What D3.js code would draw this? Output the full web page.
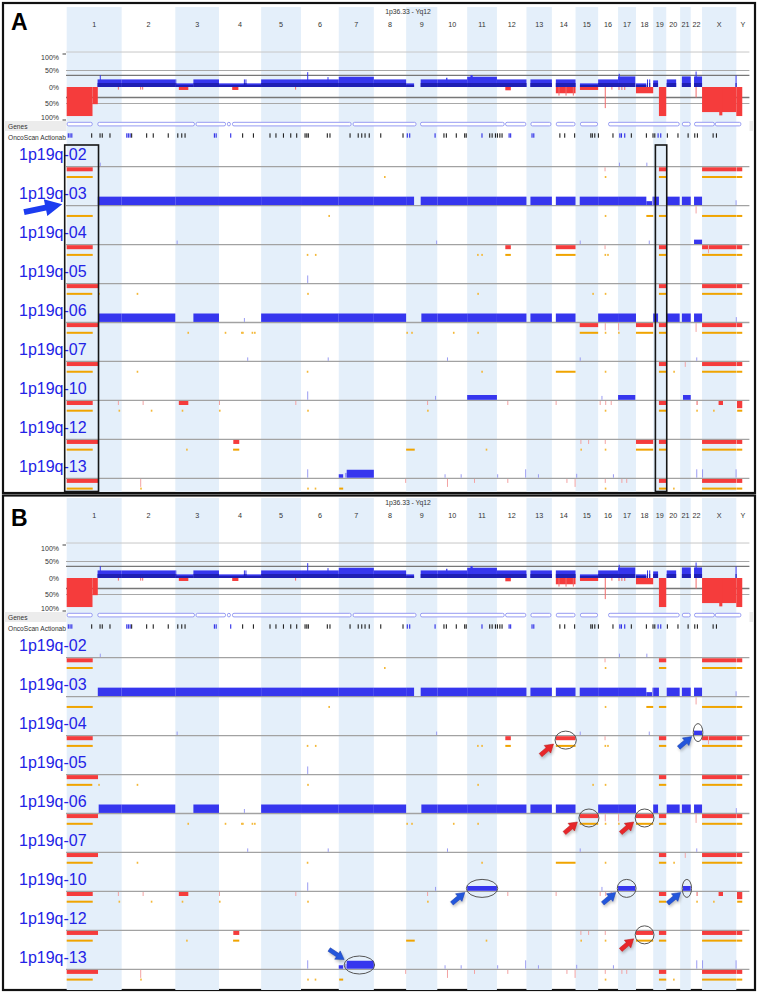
<!DOCTYPE html>
<html>
<head>
<meta charset="utf-8">
<script src="https://cdnjs.cloudflare.com/ajax/libs/d3/7.8.5/d3.min.js"></script>
<style>
body { margin: 0; background: #fff; }
svg { display: block; font-family: "Liberation Sans", Arial, sans-serif; }
</style>
</head>
<body>
<svg id="fig" width="758" height="992"></svg>
<script>
// chromosome sizes in Mb
const chromNames = ["1","2","3","4","5","6","7","8","9","10","11","12","13","14","15","16","17","18","19","20","21","22","X","Y"]
const chromLengths = [249.25, 243.2, 198.0, 191.15, 180.9, 171.1, 159.1, 146.4, 141.2, 135.5, 135.0, 133.9, 115.2, 107.3, 102.5, 90.35, 81.2, 78.1, 59.1, 63.0, 48.1, 51.3, 155.3, 59.4]
const pctTicks = [100, 50, 0, -50, -100]

// aggregate frequency track: [chrom, startMb, endMb, percent]
const summaryGain = [
  [1, 140, 249.25, 23], [1, 150, 152, 36],
  [2, 0, 243.2, 23],
  [3, 0, 3, 23], [3, 3, 82, 11], [3, 82, 198, 23],
  [4, 0, 191.15, 11], [4, 113, 115, 23], [4, 120, 122, 23],
  [5, 0, 180.9, 23],
  [6, 0, 171.1, 23], [6, 28, 30, 45], [6, 120, 122, 30],
  [7, 0, 159.1, 31],
  [8, 0, 146.4, 23],
  [9, 0, 36, 11], [9, 66, 141.2, 23],
  [10, 0, 135.5, 23], [10, 40, 46, 28],
  [11, 0, 135, 31], [11, 15, 25, 36],
  [12, 0, 133.9, 23],
  [13, 18, 115.2, 23],
  [14, 18, 107.3, 23],
  [15, 20, 102.5, 11],
  [16, 0, 90.35, 23],
  [17, 0, 78, 32], [17, 3, 5, 40],
  [18, 0, 47, 11], [18, 50, 52, 23], [18, 60, 62, 23],
  [19, 0, 22, 20],
  [20, 2, 45, 23],
  [21, 8, 48.1, 32],
  [22, 15, 51.3, 32], [22, 22, 24, 47],
  ["X", 152, 154, 35]
]
const summaryLoss = [
  [1, 0, 117, 88], [1, 117, 141, 52], [1, 232, 234, 8],
  [2, 84, 86, 8], [2, 93, 95, 8],
  [3, 16, 59, 9],
  [4, 60, 88, 9],
  [5, 154, 156, 8],
  [12, 38, 63, 10],
  [14, 18, 107.3, 19], [14, 30, 32, 26], [14, 62, 64, 26], [14, 95, 97, 26],
  [15, 20, 102.5, 9],
  [16, 30, 32, 64], [16, 60, 62, 8],
  [17, 2, 4, 9], [17, 15, 17, 9], [17, 28, 30, 9],
  [18, 0, 78.1, 19],
  [19, 26, 59.1, 88],
  [22, 22, 24, 32],
  ["X", 0, 155.3, 76], ["X", 78, 92, 86],
  ["Y", 0, 27, 88]
]

// gene track outlines: [chromA, mbA, chromB, mbB]
const geneSegments = [
  [1, 0, 1, 118], [1, 139, 3, 89], [3, 92, 4, 32], [4, 36, 4, 54], [4, 59, 7, 58],
  [7, 63, 9, 47], [9, 63, 12, 35], [12, 37, 12, 133], [13, 18, 13, 113], [14, 18, 14, 107],
  [15, 20, 15, 102], [16, 45, 20, 61], [21, 8, 21, 48], [22, 15, "X", 58], ["X", 58, "Y", 23]
]

// OncoScan actionable genes: [chrom, mb, blue?]
const actionableTicks = [
  [1, 7, 1], [1, 15, 1], [1, 23, 1], [1, 113, 0], [1, 151, 0], [1, 161, 0], [1, 196, 0],
  [2, 23, 1], [2, 30, 1], [2, 38, 1], [2, 45, 0], [2, 113, 0], [2, 143, 0], [2, 211, 0],
  [3, 11, 0], [3, 29, 0], [3, 44, 0], [3, 177, 1], [3, 185, 1],
  [4, 53, 1], [4, 107, 0], [4, 156, 0],
  [5, 40, 0], [5, 67, 0], [5, 101, 0], [5, 134, 0], [5, 161, 0],
  [6, 18, 0], [6, 26, 0], [6, 33, 0], [6, 119, 0], [6, 131, 0],
  [7, 51, 0], [7, 88, 0], [7, 104, 0], [7, 119, 0], [7, 138, 0],
  [8, 31, 0], [8, 132, 0],
  [9, 5, 1], [9, 16, 1], [9, 131, 1],
  [10, 30, 0], [10, 41, 0], [10, 86, 0], [10, 124, 0], [10, 131, 0],
  [11, 67, 1], [11, 102, 0], [11, 113, 0], [11, 128, 0],
  [12, 2, 0], [12, 13, 0], [12, 23, 0], [12, 55, 1], [12, 62, 1],
  [13, 25, 1], [13, 33, 1],
  [14, 36, 0], [14, 58, 0], [14, 103, 0],
  [15, 69, 0], [15, 76, 0], [15, 87, 0], [16, 1, 0], [16, 67, 0],
  [17, 8, 1], [17, 15, 1], [17, 30, 1], [17, 60, 0],
  [18, 47, 0], [18, 77, 0], [19, 7, 0], [19, 22, 1], [19, 34, 1],
  [20, 5, 0], [20, 53, 0], [21, 36, 0], [22, 18, 0], [22, 30, 0],
  ["X", 50, 0], ["X", 65, 0]
]

const sampleNames = ["1p19q-02", "1p19q-03", "1p19q-04", "1p19q-05", "1p19q-06", "1p19q-07", "1p19q-10", "1p19q-12", "1p19q-13"]

// per sample: [chrom, startMb, endMb, level]
const sampleGains = [
  [[1, 150, 152, 0.45], [17, 4, 6, 0.45], [18, 47, 49, 0.45]],
  [[1, 141, 249.25, 1], [2, 0, 243.2, 1], [3, 0, 198, 1], [4, 0, 191.15, 1], [5, 0, 180.9, 1], [6, 0, 171.1, 1],
   [7, 0, 159.1, 1], [8, 0, 146.4, 1], [9, 0, 36, 1], [9, 66, 141.2, 1], [10, 0, 135.5, 1], [11, 0, 135, 1],
   [12, 0, 133.9, 1], [13, 18, 115.2, 1], [14, 18, 107.3, 1], [15, 19, 102.5, 1], [16, 0, 90.35, 1], [17, 0, 81.2, 1],
   [18, 0, 47, 1], [18, 47, 73, 0.5], [18, 73, 78.1, 1], [19, 0, 26, 1], [20, 2, 61, 1], [21, 8, 48.1, 1],
   [22, 15, 51.3, 1], ["X", 152, 154, 0.6]],
  [[3, 6, 8, 0.45], [9, 136, 138, 0.45], [15, 19, 21, 0.45], [18, 58, 60, 0.45], [22, 15, 51.3, 0.55]],
  [[6, 28, 30, 0.9]],
  [[1, 145, 249.25, 1], [2, 0, 243.2, 1], [3, 82, 198, 1], [4, 113, 115, 0.5], [5, 0, 180.9, 1], [6, 0, 171.1, 1],
   [7, 0, 159.1, 1], [8, 0, 146.4, 1], [9, 69, 141.2, 1], [10, 0, 135.5, 1], [11, 0, 135, 1], [12, 0, 133.9, 1],
   [13, 18, 115.2, 1], [14, 18, 107.3, 1], [16, 0, 90.35, 1], [17, 0, 81.2, 1], [19, 0, 22, 1], [20, 2, 61, 1],
   [21, 8, 48.1, 1], [22, 15, 51.3, 1], ["X", 153, 155, 0.6]],
  [[4, 128, 130, 0.45], [6, 121, 123, 0.45], [10, 44, 46, 0.45], [15, 19, 21, 0.45], [22, 25, 27, 0.45]],
  [[6, 28, 30, 1], [9, 131, 133, 0.5], [11, 0, 135, 0.6], [16, 15, 17, 0.5], [17, 0, 78, 0.6], [21, 13, 48.1, 0.6]],
  [],
  [[6, 28, 30, 1], [7, 0, 20, 0.45], [7, 28, 36, 0.6], [7, 36, 159.1, 0.95], [10, 33, 35, 0.45], [10, 106, 108, 0.45],
   [12, 1, 3, 0.45], [12, 128, 130, 1], [13, 52, 54, 0.45], [15, 3, 5, 0.5], [16, 67, 69, 0.45],
   [22, 25, 27, 1], ["X", 0, 2, 1], ["X", 152, 154, 1]]
]
const sampleLosses = [
  [[1, 0, 118, 1], [16, 29, 31, 1], [19, 26, 59.1, 1], ["X", 0, 154.5, 1], ["Y", 1, 27, 1]],
  [[22, 22, 24, 1.8]],
  [[1, 0, 118, 1], [12, 38, 63, 1], [14, 18, 107.3, 1], [16, 29, 31, 1], [19, 26, 59.1, 1], ["X", 0, 154.5, 1],
   ["X", 27, 29, 2], ["Y", 1, 27, 1]],
  [[1, 0, 142, 1], [19, 26, 59.1, 1], ["X", 0, 154.5, 1], ["Y", 1, 27, 1]],
  [[1, 0, 142, 1], [15, 19, 102.5, 1], [16, 30, 32, 1.8], [17, 0, 2, 1.8], [18, 0, 78.1, 1], [19, 26, 59.1, 1],
   [22, 22, 24, 2.2], ["X", 0, 154.5, 1], ["Y", 1, 27, 1]],
  [[1, 0, 142, 1], [19, 26, 59.1, 1], [21, 21, 23, 1.2], ["X", 0, 154.5, 1], ["Y", 1, 27, 1]],
  [[1, 0, 118, 1], [1, 232, 234, 1], [2, 95, 97, 1], [3, 16, 59, 1], [4, 0, 2, 1], [5, 155, 157, 1],
   [9, 95, 97, 1], [12, 47, 49, 1], [14, 17, 19, 1], [16, 7, 9, 1], [16, 32, 34, 1], [16, 57, 59, 1],
   [19, 26, 59.1, 1], [22, 25, 33, 1], ["X", 75, 95, 1], ["Y", 3, 27, 1.8]],
  [[1, 0, 142, 1], [4, 65, 92, 1], [15, 22, 24, 1], [15, 57, 59, 1], [16, 30, 32, 1], [18, 0, 78.1, 1],
   [19, 26, 59.1, 1], ["X", 0, 154.5, 1], ["Y", 1, 27, 1]],
  [[1, 0, 142, 1], [2, 84, 86, 2], [8, 142, 144, 1], [10, 44, 46, 2], [11, 31, 33, 1], [12, 47, 49, 1],
   [14, 66, 68, 1], [14, 103, 105, 2], [16, 30, 32, 1], [17, 15, 17, 1], [17, 37, 39, 1], [19, 26, 59.1, 1],
   ["X", 0, 154.5, 1], ["Y", 1, 27, 1]]
]
const sampleLoh = [
  [[1, 0, 118], [8, 46, 47.5], [16, 30, 31.5], [19, 26, 59.1], ["X", 0, 154.5], ["Y", 1, 27]],
  [[1, 0, 118], [6, 124, 125.5], [16, 30, 31.5], [18, 47, 78.1], [19, 26, 59.1], ["X", 0, 154.5], ["Y", 1, 27]],
  [[1, 0, 118], [6, 26, 27.5], [6, 63, 64.5], [11, 45, 46.5], [11, 64, 65.5], [12, 38, 63], [14, 18, 107.3],
   [16, 29, 30.5], [16, 41, 42.5], [19, 26, 59.1], ["X", 0, 154.5], ["Y", 1, 27]],
  [[1, 0, 116], [1, 143, 144.5], [2, 68, 69.5], [6, 28, 29.5], [11, 46, 47.5], [15, 76, 77.5], [16, 30, 31.5],
   [19, 26, 59.1], ["X", 0, 154.5], ["Y", 1, 27]],
  [[1, 0, 118], [3, 55, 56.5], [4, 26, 27.5], [4, 100, 101.5], [4, 105, 106.5], [4, 148, 149.5], [4, 159, 160.5],
   [9, 1, 2.5], [9, 23, 24.5], [10, 71, 72.5], [11, 46, 47.5], [15, 19, 102.5], [16, 30, 31.5], [17, 0, 1.5],
   [18, 0, 78.1], [19, 26, 59.1], ["X", 0, 154.5], ["Y", 1, 27]],
  [[1, 0, 118], [2, 68, 69.5], [6, 26, 27.5], [11, 64, 65.5], [14, 18, 107.3], [16, 30, 31.5], [19, 26, 59.1],
   [20, 32, 33.5], ["X", 0, 154.5], ["Y", 1, 27]],
  [[1, 0, 118], [1, 235, 236.5], [2, 132, 133.5], [3, 29, 30.5], [4, 0, 1.5], [6, 28, 29.5], [9, 95, 96.5],
   [16, 30, 31.5], [19, 26, 59.1], [22, 25, 26.5], ["X", 50, 51.5], ["Y", 4, 27]],
  [[1, 0, 118], [3, 49, 50.5], [4, 64, 92], [9, 0, 39], [11, 84, 85.5], [15, 22, 23.5], [16, 30, 31.5],
   [18, 0, 78.1], [19, 26, 59.1], ["X", 0, 154.5], ["Y", 1, 27]],
  [[1, 0, 118], [2, 84, 85.5], [6, 28, 29.5], [6, 62, 63.5], [7, 2, 20], [16, 30, 31.5], [19, 26, 59.1],
   [20, 31, 32.5], ["X", 0, 154.5], ["Y", 1, 27]]
]

// boxed columns in panel A: [chrom, startMb, endMb]
const boxedRegions = [[1, 0, 142], [19, 19, 59.1]]
// circled events in panel B: [sample, kind, chrom, startMb, endMb, arrowFrom]
const highlights = [
  [2, "loss", 14, 18, 107.3, "below"], [2, "gain", 22, 15, 51.3, "below"],
  [4, "loss", 15, 19, 102.5, "below"], [4, "loss", 18, 0, 78.1, "below"],
  [6, "gain", 11, 0, 135, "below"], [6, "gain", 17, 0, 78, "below"], [6, "gain", 21, 13, 48.1, "below"],
  [7, "loss", 18, 0, 78.1, "below"], [8, "gain", 7, 28, 159.1, "above"]
]

const BLUE = "#3636ee", BLUE_LIGHT = "#9a9cf2", RED = "#f53c3c", RED_LIGHT = "#f3a3a3"
const ORANGE = "#f0a400", ORANGE_LIGHT = "#f4b838", BAND = "#e4effa"

let chromStart = new Map()
let acc = 0
chromNames.forEach((c, i) => { chromStart.set(c, acc); acc += chromLengths[i] })
const genomeTotal = acc
let pos = (c, mb) => chromStart.get(String(c)) + mb

const x = d3.scaleLinear().domain([0, genomeTotal]).range([66.7, 749.4])
const yPct = d3.scaleLinear().domain([-100, 100]).range([120, 54])
const rowY = d3.scaleLinear().domain([0, 1]).range([166.7, 205.65])

const svg = d3.select("#fig")
const defs = svg.append("defs")
defs.append("clipPath").attr("id", "labelClip")
  .append("rect").attr("x", 0).attr("y", 0).attr("width", 66).attr("height", 992)
const sh = defs.append("filter").attr("id", "shadow").attr("x", "-50%").attr("y", "-50%").attr("width", "200%").attr("height", "200%")
sh.append("feGaussianBlur").attr("in", "SourceAlpha").attr("stdDeviation", 1.6).attr("result", "b")
sh.append("feOffset").attr("dx", 1).attr("dy", 1.5).attr("result", "o")
sh.append("feComponentTransfer").append("feFuncA").attr("type", "linear").attr("slope", 0.25)
const merge = sh.append("feMerge")
merge.append("feMergeNode")
merge.append("feMergeNode").attr("in", "SourceGraphic")

let arrowPoints = (x0, y0, x1, y1, sw, hw, hl) => {
  const len = Math.hypot(x1 - x0, y1 - y0)
  const ux = (x1 - x0) / len, uy = (y1 - y0) / len, nx = -uy, ny = ux
  const bx = x1 - ux * hl, by = y1 - uy * hl
  return [
    [x0 + nx * sw / 2, y0 + ny * sw / 2], [bx + nx * sw / 2, by + ny * sw / 2], [bx + nx * hw / 2, by + ny * hw / 2],
    [x1, y1],
    [bx - nx * hw / 2, by - ny * hw / 2], [bx - nx * sw / 2, by - ny * sw / 2], [x0 - nx * sw / 2, y0 - ny * sw / 2]
  ].map(p => p.map(v => v.toFixed(2)).join(",")).join(" ")
}

let segX = d => x(pos(d[0], d[1]))
let segW = d => Math.max(1, x(pos(d[0], d[2])) - x(pos(d[0], d[1])))

function drawPanel(top, bottom, letter, letterY, annotate) {
  const g = svg.append("g").attr("transform", `translate(0,${top})`)

  // alternating chromosome bands
  g.selectAll(".band").data(chromNames.filter((c, i) => i % 2 === 0))
    .join("rect")
    .attr("x", c => x(pos(c, 0)))
    .attr("width", c => x(pos(c, chromLengths[chromNames.indexOf(c)])) - x(pos(c, 0)))
    .attr("y", 7).attr("height", bottom - 7)
    .attr("fill", BAND)

  g.append("text").attr("x", 11).attr("y", letterY).attr("font-size", 23).attr("font-weight", "bold").text(letter)
  g.append("text").attr("x", 408).attr("y", 13.5).attr("text-anchor", "middle").attr("font-size", 6.8)
    .attr("fill", "#333").text("1p36.33 - Yq12")

  g.selectAll(".clab").data(chromNames).join("text")
    .attr("x", (c, i) => x(pos(c, chromLengths[i] / 2)))
    .attr("y", 27).attr("text-anchor", "middle").attr("font-size", 7.2).attr("fill", "#333")
    .text(c => c)

  // frequency summary
  const lines = [[yPct(106), "#c8c8c8", 1], [yPct(50), "#a8a8a8", 1], [yPct(35), "#777", 1.3],
                 [yPct(-32), "#777", 1.6], [yPct(-50), "#a8a8a8", 1]]
  g.selectAll(".hl").data(lines).join("line")
    .attr("x1", 66).attr("x2", 749.4).attr("y1", d => d[0]).attr("y2", d => d[0])
    .attr("stroke", d => d[1]).attr("stroke-width", d => d[2])

  g.selectAll(".sg").data(summaryGain).join("rect")
    .attr("x", segX).attr("width", segW)
    .attr("y", d => yPct(d[3])).attr("height", d => yPct(0) - yPct(d[3]))
    .attr("fill", BLUE)
  g.selectAll(".sgd").data(summaryGain).join("rect")
    .attr("x", segX).attr("width", segW)
    .attr("y", d => Math.max(yPct(d[3]) + 1.5, yPct(0) - 4)).attr("height", d => Math.min(4, yPct(0) - yPct(d[3]) - 1.5))
    .attr("fill", "#1f1fb4")
  g.selectAll(".sl").data(summaryLoss).join("rect")
    .attr("x", segX).attr("width", segW)
    .attr("y", yPct(0)).attr("height", d => yPct(-d[3]) - yPct(0))
    .attr("fill", d => segW(d) < 2 ? "#f26b6b" : RED)

  g.selectAll(".ptl").data(pctTicks).join("text")
    .attr("x", 59).attr("text-anchor", "end").attr("font-size", 7).attr("fill", "#333")
    .attr("y", d => yPct(d) + 2.5 + (d === 100 ? 3 : d === -100 ? -3 : 0))
    .text(d => Math.abs(d) + "%")
  g.selectAll(".ptk").data([100, -100]).join("line")
    .attr("x1", 62.5).attr("x2", 66).attr("y1", d => yPct(d)).attr("y2", d => yPct(d))
    .attr("stroke", "#444").attr("stroke-width", 1)

  // genes + actionable rows
  g.append("rect").attr("x", 4).attr("y", 121).attr("width", 62.5).attr("height", 10).attr("fill", "#ececec")
  g.append("rect").attr("x", 749.5).attr("y", 121).attr("width", 4).attr("height", 10).attr("fill", "#ececec")
  g.append("text").attr("x", 8).attr("y", 129).attr("font-size", 6.6).attr("fill", "#333").text("Genes")
  g.append("text").attr("x", 8).attr("y", 140).attr("font-size", 6.6).attr("fill", "#333")
    .attr("clip-path", "url(#labelClip)").text("OncoScan Actionable")
  g.selectAll(".gene").data(geneSegments).join("rect")
    .attr("x", d => x(pos(d[0], d[1])) + 0.5)
    .attr("width", d => x(pos(d[2], d[3])) - x(pos(d[0], d[1])) - 1)
    .attr("y", 122.3).attr("height", 3.6).attr("rx", 1.5)
    .attr("fill", "#fff").attr("stroke", "#8a8ff0").attr("stroke-width", 0.9)
  g.selectAll(".act").data(actionableTicks).join("rect")
    .attr("x", d => x(pos(d[0], d[1])) - 0.5).attr("width", 1.1)
    .attr("y", 133.3).attr("height", 4.4)
    .attr("fill", d => d[2] ? "#2b2be6" : "#222")

  // sample rows
  sampleNames.forEach((name, i) => {
    const L = rowY(i)
    const r = g.append("g")
    r.append("line").attr("x1", 66).attr("x2", 749.4).attr("y1", L).attr("y2", L)
      .attr("stroke", "#a2a2a2").attr("stroke-width", 1.3)
    r.selectAll(".gn").data(sampleGains[i]).join("rect")
      .attr("x", segX).attr("width", segW)
      .attr("y", d => L - 9 * d[3]).attr("height", d => 9 * d[3] - 0.6)
      .attr("fill", d => segW(d) < 2.5 ? BLUE_LIGHT : BLUE)
    r.selectAll(".ls").data(sampleLosses[i]).join("rect")
      .attr("x", segX).attr("width", segW)
      .attr("y", L + 0.6).attr("height", d => 4 * d[3])
      .attr("fill", d => segW(d) < 2.5 ? RED_LIGHT : RED)
    r.selectAll(".lh").data(sampleLoh[i]).join("rect")
      .attr("x", segX).attr("width", d => Math.max(1.6, segW(d)))
      .attr("y", L + 9.3).attr("height", 2)
      .attr("fill", d => segW(d) < 2.5 ? ORANGE_LIGHT : ORANGE)
    r.append("text").attr("x", 19).attr("y", L - 6.5).attr("font-size", 16).attr("fill", "#2323e6").text(name)
  })

  annotate(g)
  return g
}

// panel A
svg.append("rect").attr("x", 3).attr("y", 3).attr("width", 752).attr("height", 490)
  .attr("fill", "#fff").attr("stroke", "#111").attr("stroke-width", 2.2)
drawPanel(0, 492, "A", 29.5, g => {
  g.selectAll(".box").data(boxedRegions).join("rect")
    .attr("x", d => x(pos(d[0], d[1])) - 2)
    .attr("width", d => x(pos(d[0], d[2])) - x(pos(d[0], d[1])) + 2.5)
    .attr("y", 145).attr("height", 346.5)
    .attr("fill", "none").attr("stroke", "#161616").attr("stroke-width", 1.6)
  const ty = rowY(1)
  g.append("polygon").attr("points", arrowPoints(24, ty + 6.5, x(0) - 4.5, ty - 1.5, 6, 17, 17))
    .attr("fill", "#1c3cf0")
})

// panel B
svg.append("rect").attr("x", 3).attr("y", 495.5).attr("width", 752).attr("height", 494.5)
  .attr("fill", "#fff").attr("stroke", "#111").attr("stroke-width", 2.2)
drawPanel(491, 499, "B", 35, g => {
  highlights.forEach(h => {
    const [s, kind, c, a, b, from] = h
    const L = rowY(s)
    const x0 = x(pos(c, a)), x1 = x(pos(c, b))
    const cx = (x0 + x1) / 2
    const rx = Math.max(4, (x1 - x0) / 2 + 0.8)
    const cy = kind === "loss" ? L + 4.5 : (from === "above" ? L - 4.3 : L - 3)
    g.append("ellipse").attr("cx", cx).attr("cy", cy).attr("rx", rx).attr("ry", 9)
      .attr("fill", "none").attr("stroke", "#555").attr("stroke-width", 1)
    let tip, tail
    if (from === "above") {
      tip = [cx - rx, cy - 5.5]; tail = [tip[0] - 15, tip[1] - 10]
    } else {
      tip = [cx - rx - 1.5, cy + 4]; tail = [tip[0] - 13, tip[1] + 11]
    }
    g.append("polygon").attr("points", arrowPoints(tail[0], tail[1], tip[0], tip[1], 4.2, 10, 8))
      .attr("fill", kind === "loss" ? "#e8282c" : "#2456dc")
      .attr("stroke", kind === "loss" ? "#b01818" : "#1a3aa0").attr("stroke-width", 0.5)
      .attr("filter", "url(#shadow)")
  })
})
</script>
</body>
</html>
